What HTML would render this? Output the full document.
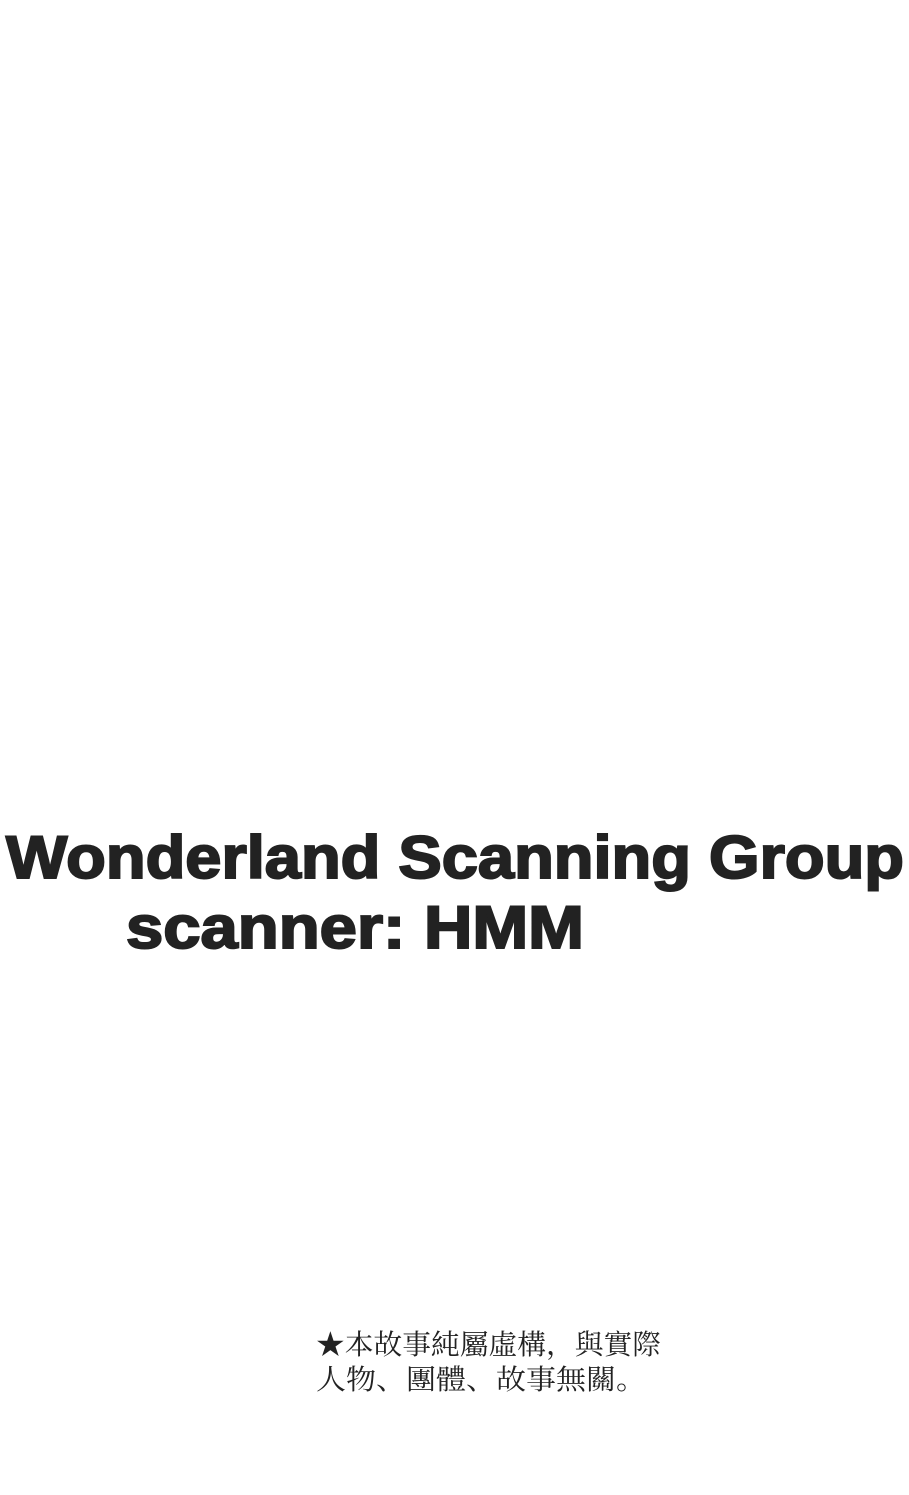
<!DOCTYPE html>
<html><head><meta charset="utf-8"><style>
html,body{margin:0;padding:0;background:#fff;}
body{width:909px;height:1490px;overflow:hidden;}
</style></head><body>
<svg width="909" height="1490" xmlns="http://www.w3.org/2000/svg">
<rect width="909" height="1490" fill="#fff"/>
<text x="6" y="878" font-family="Liberation Sans, sans-serif" font-weight="bold" font-size="60" fill="#222" stroke="#222" stroke-width="2" textLength="898" lengthAdjust="spacingAndGlyphs">Wonderland Scanning Group</text>
<text x="126" y="948" font-family="Liberation Sans, sans-serif" font-weight="bold" font-size="60" fill="#222" stroke="#222" stroke-width="2" textLength="458" lengthAdjust="spacingAndGlyphs">scanner: HMM</text>
<text x="316" y="1354" font-family="Liberation Serif, Noto Serif CJK SC, serif" font-size="28" fill="#222" textLength="345" lengthAdjust="spacingAndGlyphs">★本故事純屬虛構，與實際</text>
<text x="316" y="1389" font-family="Liberation Serif, Noto Serif CJK SC, serif" font-size="28" fill="#222" textLength="330" lengthAdjust="spacingAndGlyphs">人物、團體、故事無關。</text>
</svg>
</body></html>
